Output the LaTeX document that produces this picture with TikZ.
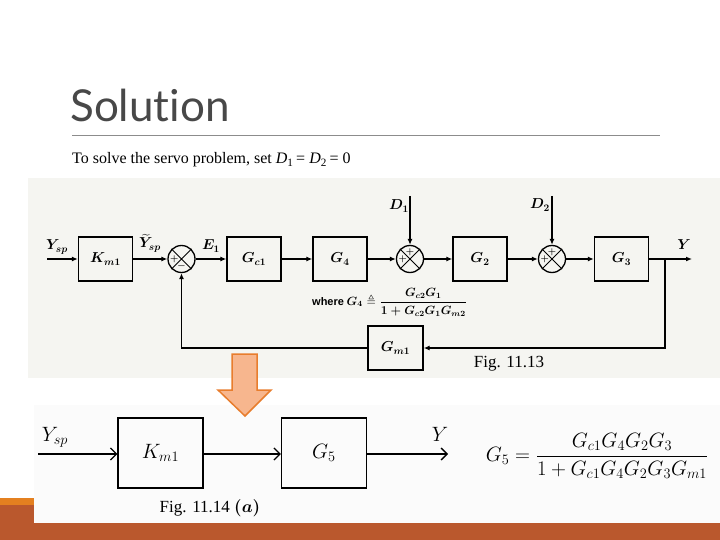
\documentclass[tikz,border=0pt]{standalone}
\usepackage{amsmath,amssymb}
\usepackage{fontspec}
\setmainfont{Liberation Serif}
\newfontfamily\titlefont[Ligatures={NoCommon}]{Lato}
\newfontfamily\sansbold{Liberation Sans}
\usetikzlibrary{arrows.meta,calc}
\definecolor{rust}{RGB}{186,88,45}
\definecolor{brightorange}{RGB}{228,128,32}
\definecolor{salmon}{RGB}{247,182,142}
\definecolor{arrowedge}{RGB}{232,125,45}
\definecolor{scanbg}{RGB}{245,245,241}
\definecolor{titlegray}{RGB}{72,72,72}
\definecolor{rulegray}{RGB}{140,140,140}
\begin{document}
\begin{tikzpicture}[x=1pt,y=-1pt,
  blk/.style={draw,line width=1.4pt,minimum width=54pt,minimum height=44pt,inner sep=0pt,font=\fontsize{14.5}{16}\selectfont\boldmath},
  sumj/.style={circle,draw,line width=1.3pt,minimum size=27pt,inner sep=0pt},
  sgn/.style={inner sep=0pt,font=\fontsize{9.5}{10}\selectfont\boldmath},
  lab/.style={inner sep=0pt,font=\fontsize{14}{16}\selectfont\boldmath},
  sig/.style={line width=1.3pt,-{Latex[length=6pt,width=5pt]}},
  bblk/.style={draw,line width=1.3pt,minimum width=85pt,minimum height=70pt,inner sep=0pt,font=\fontsize{20}{24}\selectfont},
  bsig/.style={line width=1.8pt,-{Straight Barb[length=6pt,width=12pt,line width=1.3pt]}},
  blab/.style={inner sep=0pt,font=\fontsize{20}{24}\selectfont}]
\useasboundingbox (0,0) rectangle (720,540);
\fill[white] (0,0) rectangle (720,540);
% header
\node[anchor=base west,inner sep=0pt,text=titlegray,font=\titlefont\fontsize{44}{50}\selectfont] (title) at (70,122) {Solution};
\draw[rulegray,line width=1pt] (72,136) -- (660,136);
\node[anchor=base west,inner sep=0pt,font=\fontsize{16}{18}\selectfont] (subt) at (72,164) {To solve the servo problem, set \textit{D}$_{\text{1}}$\,= \textit{D}$_{\text{2}}$\,= 0};
% image backgrounds
\fill[scanbg] (28,178) rectangle (720,378);
\fill[gray!3] (34,405) rectangle (720,523);
% ---------------- top diagram ----------------
\coordinate (in) at (47,259);
\node[blk] (km1) at (105.5,259) {$K_{m1}$};
\node[sumj] (s1) at (181.5,259) {};
\node[blk] (gc1) at (254,259) {$G_{c1}$};
\node[blk] (g4) at (340,259) {$G_4$};
\node[sumj] (s2) at (410,259) {};
\node[blk] (g2) at (480,259) {$G_2$};
\node[sumj] (s3) at (552,259) {};
\node[blk] (g3) at (621.5,259) {$G_3$};
\node[blk,minimum width=55pt] (gm1) at (395.5,348) {$G_{m1}$};
\coordinate (br) at (665,259);
\coordinate (yo) at (692,259);
\coordinate (d1) at (410,196);
\coordinate (d2) at (552,196);
% junction crosses and signs
\foreach \s in {s1,s2,s3}{
  \draw[line width=1pt] (\s.45) -- (\s.225) (\s.135) -- (\s.315);
}
\node[sgn] (s1p) at ([xshift=7pt]s1.west) {$+$};
\node[sgn] (s1m) at ([yshift=6.5pt]s1.south) {$-$};
\node[sgn] (s2t) at ([yshift=-7pt]s2.north) {$+$};
\node[sgn] (s2l) at ([xshift=7pt]s2.west) {$+$};
\node[sgn] (s3t) at ([yshift=-7pt]s3.north) {$+$};
\node[sgn] (s3l) at ([xshift=7pt]s3.west) {$+$};
% connectors
\draw[sig] (in) -- (km1);
\draw[sig] (km1) -- (s1);
\draw[sig] (s1) -- (gc1);
\draw[sig] (gc1) -- (g4);
\draw[sig] (g4) -- (s2);
\draw[sig] (s2) -- (g2);
\draw[sig] (g2) -- (s3);
\draw[sig] (s3) -- (g3);
\draw[sig] (g3) -- (yo);
\draw[sig] (br) |- (gm1.east);
\draw[sig] (gm1.west) -| (s1.south);
\draw[sig] (d1) -- (s2);
\draw[sig] (d2) -- (s3);
% labels
\node[lab] (lysp) at (57,247) {$Y_{sp}$};
\node[lab] (lyt) at (150,243) {$\widetilde{Y}_{sp}$};
\node[lab] (le1) at (211,246) {$E_1$};
\node[lab] (ly) at (684,245) {$Y$};
\node[lab] (ld1) at (399,206) {$D_1$};
\node[lab] (ld2) at (540,205) {$D_2$};
\node[anchor=west,inner sep=0pt,font=\sansbold\bfseries\fontsize{11}{13}\selectfont] (where) at (312,302) {where};
\node[anchor=west,inner sep=0pt,font=\fontsize{12}{14}\selectfont\boldmath] (g4def) at (where.east) {$\,G_4 \triangleq \displaystyle\frac{G_{c2}G_1}{1+G_{c2}G_1G_{m2}}$};
\node[inner sep=0pt,font=\fontsize{17}{19}\selectfont] (fig1) at (509,364) {Fig. 11.13};
% ---------------- orange arrow ----------------
\filldraw[fill=salmon,draw=arrowedge,line width=1.5pt,line join=miter]
  (232,354) -- (257,354) -- (257,390) -- (271,390) -- (245,416) -- (218,390) -- (232,390) -- cycle;
% ---------------- bottom diagram ----------------
\coordinate (bin) at (38,454);
\node[bblk] (bk) at (160.5,453) {$K_{m1}$};
\node[bblk] (bg5) at (324,453) {$G_5$};
\coordinate (bout) at (448,454);
\draw[bsig] (bin) -- (bin -| bk.west);
\draw[bsig] (bk.east |- bin) -- (bin -| bg5.west);
\draw[bsig] (bg5.east |- bin) -- (bout);
\node[blab] (bysp) at (55,437) {$Y_{sp}$};
\node[blab] (by) at (440,434) {$Y$};
\node[inner sep=0pt,font=\fontsize{21}{25}\selectfont] (g5eq) at (597,456) {$\displaystyle G_5 = \frac{G_{c1}G_4G_2G_3}{1+G_{c1}G_4G_2G_3G_{m1}}$};
\node[inner sep=0pt,font=\fontsize{17}{19}\selectfont] (fig2) at (210,508) {Fig. 11.14 $\boldsymbol{(a)}$};
% ---------------- footer bars ----------------
\fill[rust] (0,523) rectangle (720,540);
\fill[rust] (0,505) rectangle (34,523);
\fill[brightorange] (0,498) rectangle (34,505);
\end{tikzpicture}
\end{document}
